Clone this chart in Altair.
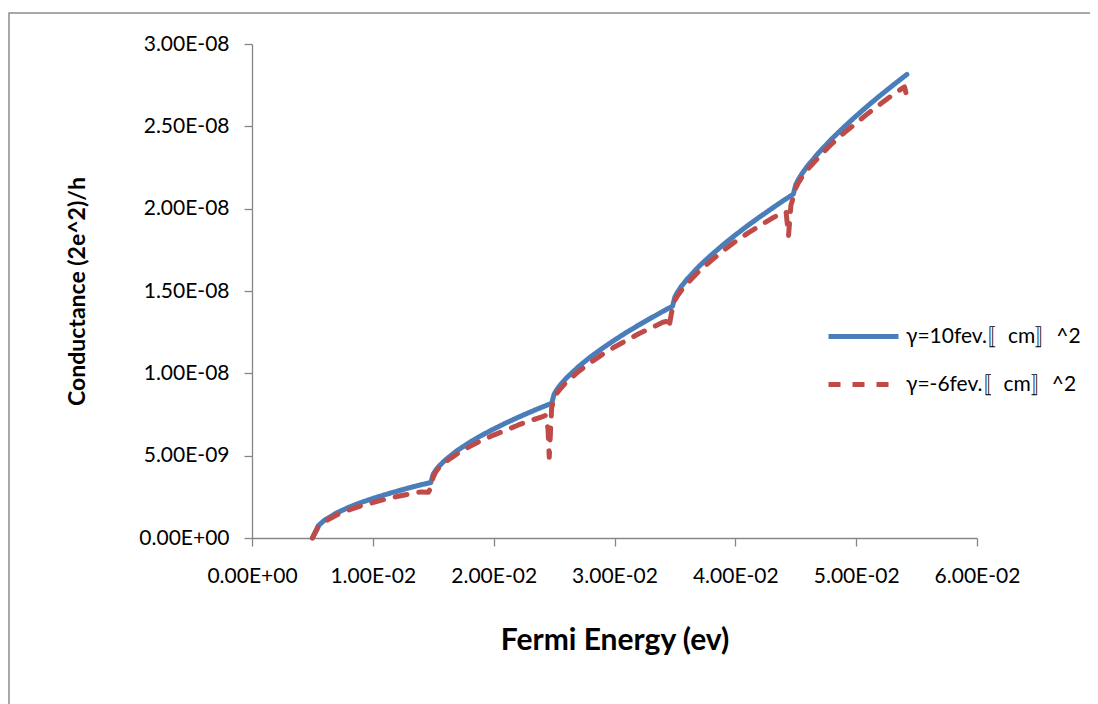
import altair as alt
import pandas as pd

# Fermi energy (eV) and conductance (units of 1E-09)
blue_energy = [0.005, 0.0055, 0.006, 0.007, 0.008, 0.009, 0.010, 0.011, 0.012, 0.013, 0.014, 0.0148,
               0.015, 0.0152, 0.0155, 0.016, 0.017, 0.018, 0.019, 0.020, 0.021, 0.022, 0.023, 0.024, 0.0248,
               0.025, 0.0252, 0.0255, 0.026, 0.027, 0.028, 0.029, 0.030, 0.031, 0.032, 0.033, 0.034, 0.0348,
               0.035, 0.0352, 0.0355, 0.036, 0.037, 0.038, 0.039, 0.040, 0.041, 0.042, 0.043, 0.044, 0.0448,
               0.045, 0.0452, 0.0455, 0.046, 0.047, 0.048, 0.049, 0.050, 0.051, 0.052, 0.053, 0.054, 0.0542]
blue_g = [0.0, 0.76, 1.08, 1.52, 1.86, 2.15, 2.40, 2.63, 2.84, 3.04, 3.23, 3.37,
          3.88, 4.11, 4.38, 4.74, 5.32, 5.80, 6.23, 6.62, 6.98, 7.32, 7.64, 7.95, 8.18,
          8.72, 8.98, 9.28, 9.70, 10.39, 10.99, 11.52, 12.02, 12.49, 12.93, 13.35, 13.76, 14.08,
          14.64, 14.91, 15.25, 15.71, 16.50, 17.18, 17.81, 18.40, 18.96, 19.49, 20.00, 20.50, 20.88,
          21.46, 21.75, 22.11, 22.62, 23.48, 24.25, 24.96, 25.63, 26.27, 26.88, 27.47, 28.04, 28.15]

red_energy = [0.005, 0.0055, 0.006, 0.007, 0.008, 0.009, 0.010, 0.011, 0.012, 0.013, 0.014, 0.0146, 0.0148,
              0.015, 0.0152, 0.0155, 0.016, 0.017, 0.018, 0.019, 0.020, 0.021, 0.022, 0.023, 0.024, 0.0243,
              0.0245, 0.0246, 0.0247, 0.0248, 0.025, 0.0252, 0.0255, 0.026, 0.027, 0.028, 0.029, 0.030,
              0.031, 0.032, 0.033, 0.034, 0.0343, 0.0345, 0.0347, 0.0349, 0.035, 0.0352, 0.0355, 0.036,
              0.037, 0.038, 0.039, 0.040, 0.041, 0.042, 0.043, 0.044, 0.0442, 0.0444, 0.0446, 0.0448,
              0.045, 0.0452, 0.0455, 0.046, 0.047, 0.048, 0.049, 0.050, 0.051, 0.052, 0.053, 0.054, 0.0542]
red_g = [0.0, 0.70, 1.00, 1.40, 1.70, 1.95, 2.15, 2.35, 2.52, 2.67, 2.80, 2.78, 3.05,
         3.70, 4.00, 4.30, 4.62, 5.12, 5.55, 5.92, 6.25, 6.55, 6.85, 7.12, 7.35, 7.45,
         6.60, 4.90, 6.40, 7.90, 8.45, 8.75, 9.05, 9.45, 10.10, 10.65, 11.15, 11.60,
         12.00, 12.40, 12.75, 13.10, 13.15, 12.75, 13.60, 14.30, 14.45, 14.70, 15.00, 15.45,
         16.20, 16.85, 17.45, 18.00, 18.50, 18.95, 19.40, 19.80, 19.80, 18.35, 20.20, 20.70,
         21.25, 21.55, 21.90, 22.40, 23.20, 23.95, 24.60, 25.20, 25.80, 26.35, 26.90, 27.40, 26.80]

series_names = ["γ=10fev.〚cm〛^2", "γ=-6fev.〚cm〛^2"]
series_colors = ["#4A7EBB", "#BE4B48"]

x_ticks = [0, 0.01, 0.02, 0.03, 0.04, 0.05, 0.06]
y_ticks = [0, 5e-9, 1e-8, 1.5e-8, 2e-8, 2.5e-8, 3e-8]

rows = []
for e, g in zip(blue_energy, blue_g):
    rows.append({"E": e, "G": g * 1e-9, "series": series_names[0]})
for e, g in zip(red_energy, red_g):
    rows.append({"E": e, "G": g * 1e-9, "series": series_names[1]})
df = pd.DataFrame(rows)

FONT = "Lato"
sci = "replace(replace(format(datum.value, '.2e'), 'e-', 'E-0'), 'e+', 'E+0')"

legend_opts = dict(title=None, orient="none", legendX=574, legendY=255,
                   symbolType="stroke", symbolSize=4900, symbolStrokeWidth=5,
                   labelFontSize=21, labelFont=FONT, labelColor="#000000",
                   labelOffset=5, rowPadding=-22, labelLimit=400)

lines = alt.Chart(df).mark_line(strokeWidth=5, strokeCap="round", strokeJoin="round").encode(
    x=alt.X("E:Q", scale=alt.Scale(domain=[0, 0.06], nice=False),
            axis=alt.Axis(title="Fermi Energy (ev)", values=x_ticks,
                          labelExpr=sci, titleFontSize=30, titlePadding=39, labelPadding=19)),
    y=alt.Y("G:Q", scale=alt.Scale(domain=[0, 3e-8], nice=False),
            axis=alt.Axis(title="Conductance (2e^2)/h", values=y_ticks,
                          labelExpr=sci, titleFontSize=23, titlePadding=49, labelPadding=15)),
    color=alt.Color("series:N", scale=alt.Scale(domain=series_names, range=series_colors),
                    legend=alt.Legend(**legend_opts)),
    strokeDash=alt.StrokeDash("series:N", scale=alt.Scale(domain=series_names, range=[[1, 0], [12, 12]]),
                              legend=alt.Legend(**legend_opts)),
)

border = alt.Chart(pd.DataFrame({"k": [0]})).mark_rect(fill=None, stroke="#8C8C8C", strokeWidth=1.5).encode(
    x=alt.value(-243), y=alt.value(-31), x2=alt.value(1200), y2=alt.value(900)
)

chart = alt.layer(border, lines).properties(
    width=725, height=494,
    autosize=alt.AutoSizeParams(type="none"),
    padding={"left": 244, "top": 36, "right": 113, "bottom": 180},
).configure_view(stroke=None).configure_axis(
    grid=False, domainColor="#868686", tickColor="#868686", tickSize=8, domainWidth=1.3, tickWidth=1.3,
    labelFont=FONT, labelFontSize=21, labelColor="#000000", titleFont=FONT, titleColor="#000000",
    titleFontWeight="bold", labelOverlap=False, labelFlush=False, labelBound=False,
)

chart.save("out.html", embed_options={"renderer": "svg", "actions": False})
